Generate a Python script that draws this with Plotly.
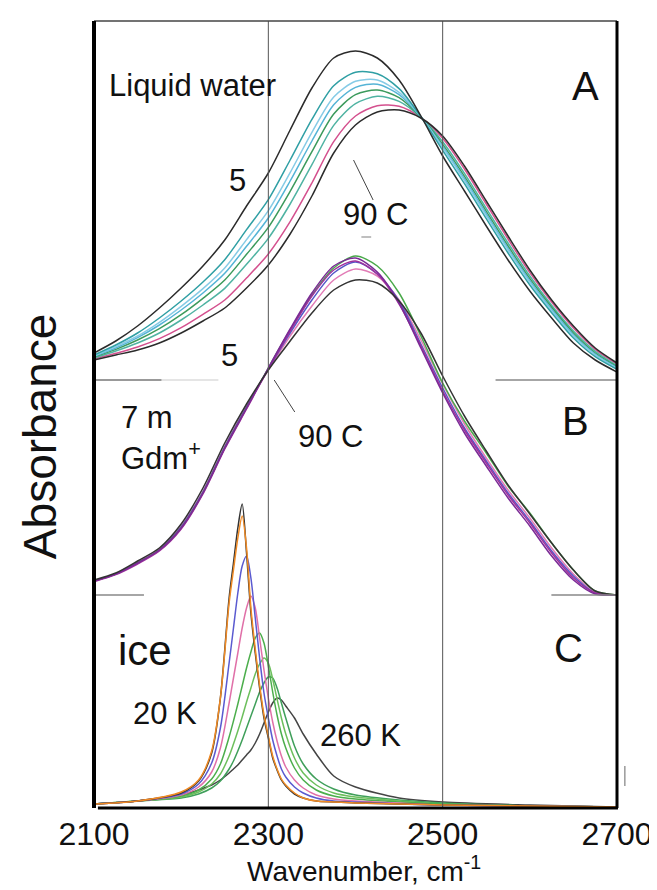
import plotly.graph_objects as go

# ---------------- data ----------------
# Panels A and B share this wavenumber grid (cm-1)
wn_AB = [2100, 2125, 2150, 2175, 2200, 2225, 2250, 2275, 2300, 2325, 2350, 2375, 2400,
         2425, 2450, 2475, 2500, 2525, 2550, 2575, 2600, 2625, 2650, 2675, 2700]

# Panel A: liquid water, 5 C ... 90 C (absorbance, mOD, relative to panel baseline)
A_5C   = [81, 117, 162, 216, 276, 342, 420, 522, 621, 750, 876, 966, 987, 966, 900, 792, 672, 567, 462, 360, 267, 186, 111, 60, 24]
A_t2   = [75, 105, 141, 186, 237, 294, 361, 451, 541, 660, 782, 883, 923, 919, 874, 790, 689, 589, 484, 381, 285, 202, 126, 70, 32]
A_t3   = [72, 100, 132, 173, 221, 274, 336, 421, 508, 622, 743, 849, 896, 900, 863, 790, 697, 598, 493, 390, 293, 208, 132, 75, 35]
A_t4   = [71, 96, 127, 165, 210, 261, 320, 401, 486, 597, 717, 826, 878, 887, 856, 789, 701, 604, 499, 395, 298, 212, 136, 78, 37]
A_t5   = [69, 92, 120, 154, 196, 245, 300, 377, 458, 566, 685, 798, 856, 870, 847, 788, 707, 611, 506, 402, 304, 218, 141, 81, 40]
A_t6   = [66, 87, 111, 141, 180, 225, 275, 347, 425, 528, 646, 764, 829, 851, 836, 788, 715, 620, 515, 411, 312, 224, 147, 86, 43]
A_t7   = [63, 80, 99, 124, 157, 197, 240, 306, 378, 475, 591, 715, 792, 823, 821, 787, 725, 633, 528, 423, 322, 234, 156, 92, 48]
A_90C  = [60, 75, 90, 111, 141, 177, 216, 276, 345, 438, 552, 681, 765, 804, 810, 786, 732, 642, 537, 432, 330, 240, 162, 96, 51]

# Panel B: 7 m Gdm+, 5 C ... 90 C
B_green   = [42, 63, 96, 135, 201, 306, 441, 561, 681, 795, 900, 981, 1017, 987, 906, 777, 636, 522, 426, 327, 246, 156, 75, 12, 0]
B_purple  = [42, 63, 96, 135, 201, 306, 441, 561, 681, 798, 906, 987, 1011, 969, 876, 741, 606, 486, 387, 291, 207, 117, 45, 3, 0]
B_magenta = [40, 61, 93, 132, 198, 303, 438, 558, 678, 792, 897, 975, 1002, 963, 873, 747, 612, 495, 396, 300, 216, 126, 51, 6, 0]
B_blue    = [42, 63, 96, 135, 204, 309, 444, 564, 678, 786, 885, 966, 999, 963, 882, 753, 621, 501, 402, 306, 222, 132, 57, 6, 0]
B_pink    = [43, 64, 99, 138, 207, 312, 447, 567, 675, 777, 867, 945, 978, 957, 885, 765, 633, 513, 411, 315, 231, 141, 63, 9, 0]
B_90C     = [45, 66, 102, 141, 213, 321, 456, 573, 675, 762, 846, 915, 945, 936, 882, 786, 657, 537, 432, 330, 243, 156, 75, 12, 0]

# Panel C: ice, 20 K ... 260 K
wn_C = [2100, 2150, 2200, 2220, 2235, 2245, 2255, 2260, 2265, 2270, 2275, 2280, 2285, 2290, 2295,
        2300, 2305, 2310, 2315, 2320, 2330, 2340, 2355, 2375, 2400, 2450, 2500, 2600, 2700]
C_20K    = [12, 21, 45, 81, 165, 330, 630, 735, 840, 912, 765, 585, 465, 360, 270, 210, 150, 114, 84, 66, 42, 30, 21, 18, 15, 12, 9, 6, 3]
C_orange = [12, 21, 48, 84, 171, 330, 615, 714, 810, 876, 780, 600, 477, 369, 279, 216, 156, 117, 87, 69, 45, 30, 21, 18, 15, 12, 9, 6, 3]
C_blue   = [12, 21, 42, 72, 135, 240, 435, 540, 645, 726, 756, 690, 570, 450, 345, 270, 204, 156, 117, 93, 63, 45, 30, 21, 18, 12, 9, 6, 3]
C_pink   = [12, 21, 39, 63, 108, 180, 315, 390, 465, 540, 600, 636, 600, 510, 414, 330, 258, 201, 156, 123, 84, 60, 39, 27, 21, 15, 9, 6, 3]
C_green1 = [12, 21, 36, 54, 87, 132, 213, 261, 312, 366, 420, 468, 510, 525, 495, 426, 348, 279, 222, 180, 120, 84, 54, 36, 27, 18, 12, 6, 3]
C_green2 = [12, 21, 33, 48, 72, 102, 156, 192, 231, 273, 318, 360, 402, 432, 450, 435, 387, 327, 270, 222, 150, 105, 69, 45, 33, 21, 12, 6, 3]
C_green3 = [12, 21, 30, 42, 60, 81, 117, 141, 171, 204, 240, 276, 312, 348, 375, 393, 390, 360, 315, 270, 186, 132, 87, 57, 39, 24, 15, 6, 3]
C_260K   = [12, 21, 39, 54, 69, 84, 105, 117, 129, 144, 159, 174, 195, 222, 255, 288, 315, 330, 324, 306, 270, 222, 162, 96, 63, 30, 18, 9, 3]

x_ticks = [2100, 2300, 2500, 2700]

# ---------------- layout constants ----------------
W, H = 657, 890
L, R, T, B = 86, 620, 13, 800          # plot area in px
Y_MAX = (B - T) * 3                    # y range in mOD units
OFF_A = (B - 372) * 3                  # vertical stacking offsets
OFF_B = (B - 587) * 3
OFF_C = 0

FONT = "Liberation Sans, Arial, Helvetica, sans-serif"


def P(x, y):
    """pixel -> paper coords"""
    return (x - L) / (R - L), (B - y) / (B - T)


fig = go.Figure()

series = [
    (wn_AB, A_t7, "#d4508e", OFF_A), (wn_AB, A_t6, "#4fb3a2", OFF_A), (wn_AB, A_t5, "#3c9a5c", OFF_A),
    (wn_AB, A_t4, "#55b4d6", OFF_A), (wn_AB, A_t3, "#86cbe6", OFF_A), (wn_AB, A_t2, "#2f9fa4", OFF_A),
    (wn_AB, A_90C, "#2b2b2b", OFF_A), (wn_AB, A_5C, "#2b2b2b", OFF_A),
    (wn_AB, B_pink, "#e27cb6", OFF_B), (wn_AB, B_blue, "#5656c8", OFF_B), (wn_AB, B_green, "#49a94a", OFF_B),
    (wn_AB, B_magenta, "#a0309c", OFF_B), (wn_AB, B_purple, "#7a2a96", OFF_B), (wn_AB, B_90C, "#333333", OFF_B),
    (wn_C, C_260K, "#444444", OFF_C), (wn_C, C_green3, "#3f9f5a", OFF_C), (wn_C, C_green2, "#6cbf5c", OFF_C),
    (wn_C, C_green1, "#4cae4c", OFF_C), (wn_C, C_pink, "#e070a8", OFF_C), (wn_C, C_blue, "#5a5ad0", OFF_C),
    (wn_C, C_20K, "#333333", OFF_C), (wn_C, C_orange, "#f08a24", OFF_C),
]
for xs, ys, col, off in series:
    fig.add_trace(go.Scatter(x=xs, y=[v + off for v in ys], mode="lines",
                             line=dict(color=col, width=1.5, shape="spline", smoothing=0.8),
                             hoverinfo="skip", showlegend=False))

shapes = []
# vertical reference lines at 2300 and 2500
for xv in (2300, 2500):
    shapes.append(dict(type="line", xref="x", yref="paper", x0=xv, x1=xv, y0=0, y1=1,
                       line=dict(color="#555555", width=1)))


def seg(x0, y0, x1, y1, color, width):
    a, b = P(x0, y0)
    c, d = P(x1, y1)
    shapes.append(dict(type="line", xref="paper", yref="paper", x0=a, y0=b, x1=c, y1=d,
                       line=dict(color=color, width=width)))


# panel separators
seg(86, 372, 155, 372, "#777777", 1.5)
seg(155, 372, 213, 372, "#cccccc", 1.2)
seg(496, 372, 620, 372, "#888888", 1.5)
seg(86, 587, 137, 587, "#888888", 1.5)
seg(553, 587, 620, 587, "#888888", 1.5)
# pointer lines for labels
seg(351, 152, 371, 192, "#444444", 1)
seg(359, 229, 369, 229, "#aaaaaa", 1.5)
seg(270, 372, 291, 404, "#444444", 1)
# small mark right of frame
seg(628, 758, 628, 778, "#999999", 1.5)
# frame
seg(86, 13, 620, 13, "#444444", 1.5)
seg(86, 13, 86, 800, "#000000", 4)
seg(620, 13, 620, 800, "#000000", 3)
seg(90, 800, 621, 800, "#000000", 3)

ann = []


def label(text, x, y, size, xanchor="center", angle=0):
    px_, py_ = P(x, y)
    ann.append(dict(text=text, x=px_, y=py_, xref="paper", yref="paper", showarrow=False,
                    xanchor=xanchor, yanchor="middle", textangle=angle,
                    font=dict(family=FONT, size=size, color="#111111")))


label("Liquid water", 99, 77, 31, xanchor="left")
label("A", 588, 78, 40)
label("5", 233, 172, 31)
label("90 C", 373, 206, 31)
label("5", 224, 347, 31)
label("90 C", 327, 428, 31)
label("7 m", 112, 409, 31, xanchor="left")
label("Gdm<sup>+</sup>", 112, 448, 31, xanchor="left")
label("B", 578, 413, 40)
label("ice", 138, 642, 42)
label("C", 570, 640, 40)
label("20 K", 158, 705, 31)
label("260 K", 358, 727, 31)
label("Absorbance", 31, 428, 46, angle=-90)
label("Wavenumber, cm<sup>-1</sup>", 362, 861, 28)

fig.update_layout(
    width=W, height=H,
    margin=dict(l=L, r=W - R, t=T, b=H - B),
    paper_bgcolor="white", plot_bgcolor="white",
    xaxis=dict(range=[2100, 2700], tickvals=x_ticks, ticktext=[str(v) for v in x_ticks],
               showgrid=False, zeroline=False, showline=False, ticks="",
               tickfont=dict(family=FONT, size=32, color="#111111"), ticklabelstandoff=4),
    yaxis=dict(range=[0, Y_MAX], visible=False),
    shapes=shapes, annotations=ann, showlegend=False,
)

fig.write_html("out.html")
